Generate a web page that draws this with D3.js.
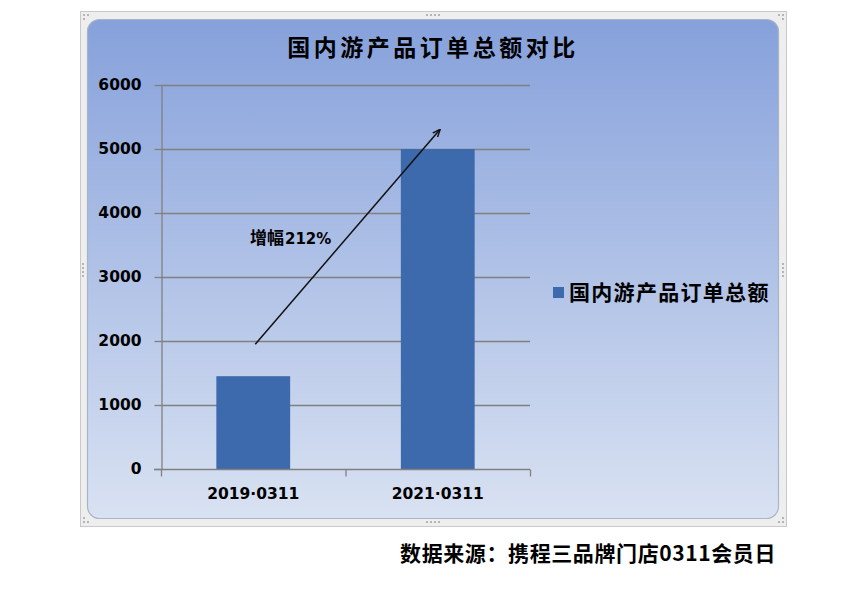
<!DOCTYPE html>
<html><head><meta charset="utf-8">
<script src="https://cdn.jsdelivr.net/npm/d3@7"></script>
<style>html,body{margin:0;padding:0;background:#fff;}svg{display:block;}</style>
</head><body><svg id="c" width="866" height="605"></svg>
<script>
const categories = ["2019·0311", "2021·0311"];
const values = [1450, 5000];
const yTicks = [0, 1000, 2000, 3000, 4000, 5000, 6000];
const titleText = "国内游产品订单总额对比";
const seriesName = "国内游产品订单总额";
const annotationText = "增幅212%";
const annotationFrom = ["2019·0311", 1950];
const annotationTo = ["2021·0311", 5300];
const sourceText = "数据来源：携程三品牌门店0311会员日";

(function(){
const svg = d3.select("#c");
const defs = svg.append("defs");
const grad = defs.append("linearGradient").attr("id","bg").attr("x1",0).attr("y1",0).attr("x2",0).attr("y2",1);
grad.append("stop").attr("offset","0%").attr("stop-color","#86a1db");
grad.append("stop").attr("offset","100%").attr("stop-color","#d9e2f2");
defs.append("marker").attr("id","arr").attr("viewBox","0 0 10 10").attr("refX",9).attr("refY",5)
  .attr("markerWidth",8).attr("markerHeight",8).attr("orient","auto").attr("markerUnits","userSpaceOnUse")
  .append("path").attr("d","M0,1 L10,5 L0,9").attr("fill","none").attr("stroke","#111").attr("stroke-width",1.8);

svg.append("rect").attr("x",80.5).attr("y",11.5).attr("width",706).attr("height",515)
  .attr("fill","#eeeeee").attr("stroke","#c9c9c9");
svg.append("rect").attr("x",87.5).attr("y",19.5).attr("width",691).attr("height",499).attr("rx",12)
  .attr("fill","url(#bg)").attr("stroke","#a9b4c8").attr("stroke-width",1.2);
function dots(cx, cy, vertical){
  for(let i=-1.5;i<=1.5;i++){
    svg.append("rect").attr("x", vertical? cx-1 : cx+i*4-1).attr("y", vertical? cy+i*4-1 : cy-1)
      .attr("width",2).attr("height",2).attr("fill","#b5b5b5");
  }
}
dots(433,15,false); dots(433,522,false); dots(83,270,true); dots(783,270,true);
[[84,15],[783,15],[84,522],[783,522]].forEach(([px,py])=>{
  svg.append("rect").attr("x",px-1).attr("y",py-1).attr("width",2).attr("height",2).attr("fill","#b5b5b5");
  svg.append("rect").attr("x",px+(px<400?3:-5)).attr("y",py-1).attr("width",2).attr("height",2).attr("fill","#b5b5b5");
  svg.append("rect").attr("x",px-1).attr("y",py+(py<100?3:-5)).attr("width",2).attr("height",2).attr("fill","#b5b5b5");
});

const L = 161, R = 530, T = 85, B = 469;
const x = d3.scaleBand().domain(categories).range([L, R]);
const y = d3.scaleLinear().domain([0, 6000]).range([B, T]);
const barW = x.bandwidth() * 0.4;

svg.append("g").selectAll("line").data(yTicks.filter(d=>d>0)).join("line")
  .attr("x1",L).attr("x2",R).attr("y1",d=>y(d)+0.5).attr("y2",d=>y(d)+0.5)
  .attr("stroke","#808080").attr("stroke-width",1.3);

svg.append("g").selectAll("rect").data(values).join("rect")
  .attr("x",(d,i)=>x(categories[i]) + (x.bandwidth()-barW)/2)
  .attr("y",d=>y(d)).attr("width",barW).attr("height",d=>B-y(d))
  .attr("fill","#3d69ad");

const yAxis = svg.append("g").attr("transform",`translate(${L+0.5},0)`)
  .call(d3.axisLeft(y).tickValues(yTicks).tickFormat(d3.format("d")).tickSize(7).tickSizeOuter(0).tickPadding(13));
yAxis.select(".domain").attr("stroke","#808080").attr("stroke-width",1.3);
yAxis.selectAll(".tick line").attr("stroke","#808080").attr("stroke-width",1.3);
yAxis.selectAll("text").attr("font-family","'DejaVu Sans', Verdana, sans-serif").attr("font-weight","bold")
  .attr("font-size","15.5px").attr("fill","#000");

const xAxis = svg.append("g").attr("transform",`translate(0,${B+0.5})`)
  .call(d3.axisBottom(x).tickSize(0).tickSizeOuter(0).tickPadding(18));
xAxis.select(".domain").attr("stroke","#808080").attr("stroke-width",1.3).attr("d",`M${L-7},0H${R}`);
xAxis.selectAll("text").attr("font-family","'DejaVu Sans', Verdana, sans-serif").attr("font-weight","bold")
  .attr("font-size","15.5px").attr("fill","#000");
const bounds = [L, L + x.step(), R];
xAxis.append("g").selectAll("line").data(bounds).join("line")
  .attr("x1",d=>d+0.5).attr("x2",d=>d+0.5).attr("y1",0).attr("y2",7)
  .attr("stroke","#808080").attr("stroke-width",1.3);

svg.append("text").attr("x",433).attr("y",56).attr("text-anchor","middle")
  .attr("font-family","'Noto Sans CJK SC', sans-serif").attr("font-weight","bold")
  .attr("font-size","23px").attr("letter-spacing","3.5px").attr("fill","#000").text(titleText);

const ax = d => x(d) + x.bandwidth()/2;
svg.append("line").attr("x1",ax(annotationFrom[0])+2).attr("y1",y(annotationFrom[1]))
  .attr("x2",ax(annotationTo[0])+2).attr("y2",y(annotationTo[1]))
  .attr("stroke","#111").attr("stroke-width",1.5).attr("marker-end","url(#arr)");
const at = svg.append("text").attr("x",250).attr("y",244)
  .attr("font-family","'Noto Sans CJK SC', sans-serif").attr("font-weight","bold")
  .attr("font-size","17px").attr("fill","#000");
at.append("tspan").text(annotationText.slice(0,2));
at.append("tspan").attr("font-family","'DejaVu Sans', sans-serif").attr("font-size","15px").attr("dx",1).text(annotationText.slice(2));

svg.append("rect").attr("x",553).attr("y",287).attr("width",11).attr("height",11).attr("fill","#3d69ad");
svg.append("text").attr("x",569).attr("y",300)
  .attr("font-family","'Noto Sans CJK SC', sans-serif").attr("font-weight","bold")
  .attr("font-size","21px").attr("letter-spacing","1.3px").attr("fill","#000").text(seriesName);

svg.append("text").attr("x",776).attr("y",561).attr("text-anchor","end")
  .attr("font-family","'Noto Sans CJK SC', sans-serif").attr("font-weight","bold")
  .attr("font-size","21px").attr("letter-spacing","0.6px").attr("fill","#000").text(sourceText);
})();
</script>
</body></html>
